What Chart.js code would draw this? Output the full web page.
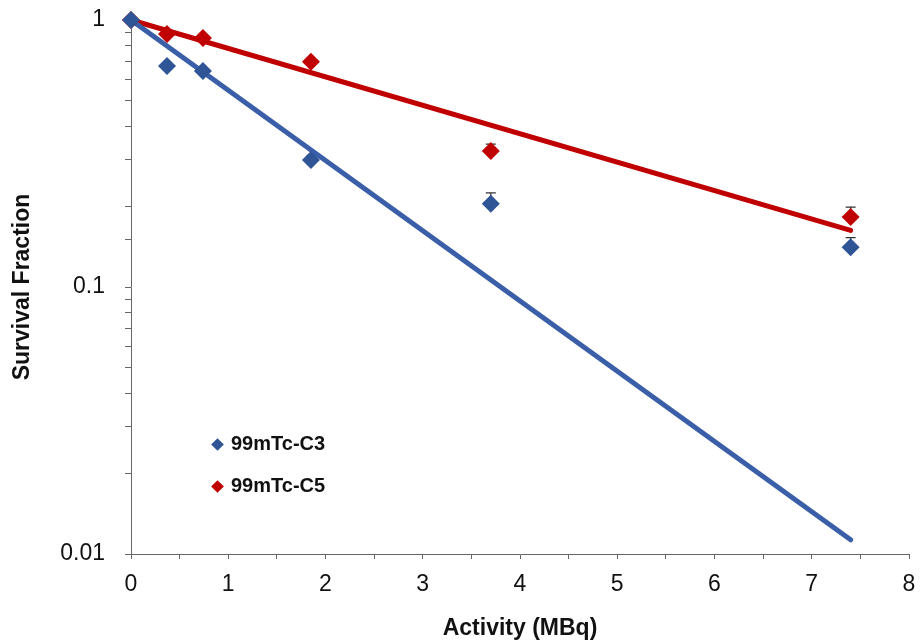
<!DOCTYPE html>
<html>
<head>
<meta charset="utf-8">
<script src="https://cdn.jsdelivr.net/npm/chart.js@4.4.1/dist/chart.umd.min.js"></script>
<style>
    body { margin: 0; background: #fff; }
    #wrap { position: relative; width: 921px; height: 644px; }
    #legend { position: absolute; left: 210px; top: 432px; font-family: 'Liberation Sans', Arial, sans-serif; font-weight: bold; font-size: 20px; color: #111; }
    #legend div { height: 42px; display: flex; align-items: flex-start; }
    #legend span.mk { display: inline-block; width: 9px; height: 9px; transform: rotate(45deg); margin: 8px 9px 0 3px; }
</style>
</head>
<body>
<div id="wrap">
    <canvas id="survivalChart"></canvas>
    <div id="legend"></div>
</div>
<script>
const activity = [0, 0.37, 0.74, 1.85, 3.7, 7.4];
const c3Values = [1, 0.672, 0.644, 0.299, 0.205, 0.141];
const c5Values = [1, 0.886, 0.856, 0.697, 0.323, 0.183];
const c3Err = [0, 0.01, 0.01, 0.01, 0.02, 0.012];
const c5Err = [0, 0.01, 0.01, 0.02, 0.02, 0.016];
const trendX = [0, 7.4];
const c3Trend = [1, 0.0113];
const c5Trend = [1, 0.163];
const seriesNames = ['99mTc-C3', '99mTc-C5'];
const yLabels = [1, 0.1, 0.01];

const blue = '#2F5597';
const blueLine = '#3A5FA8';
const red = '#C00000';
const axisColor = '#666';

function pts(xs, ys) {
    return xs.map((x, i) => ({ x: x, y: ys[i] }));
}

// error bars drawn behind the markers
const errorBars = {
    id: 'errorBars',
    beforeDatasetsDraw(chart) {
        const ctx = chart.ctx;
        const xs = chart.scales.x;
        const ys = chart.scales.y;
        ctx.save();
        ctx.strokeStyle = '#333';
        ctx.lineWidth = 1.2;
        chart.data.datasets.forEach(ds => {
            if (!ds.errors) return;
            ds.data.forEach((p, i) => {
                const e = ds.errors[i];
                if (!e) return;
                const px = xs.getPixelForValue(p.x);
                const y0 = ys.getPixelForValue(p.y);
                const y1 = ys.getPixelForValue(p.y + e);
                ctx.beginPath();
                ctx.moveTo(px, y0);
                ctx.lineTo(px, y1);
                ctx.moveTo(px - 5, y1);
                ctx.lineTo(px + 5, y1);
                ctx.stroke();
            });
        });
        ctx.restore();
    }
};

const ctx = document.getElementById('survivalChart').getContext('2d');
const survivalChart = new Chart(ctx, {
    type: 'scatter',
    data: {
        datasets: [{
            label: seriesNames[0],
            data: pts(activity, c3Values),
            errors: c3Err,
            pointStyle: 'rectRot',
            pointRadius: 9,
            backgroundColor: blue,
            borderColor: blue,
            borderWidth: 0,
            clip: false,
            order: 1
        }, {
            label: seriesNames[1],
            data: pts(activity, c5Values),
            errors: c5Err,
            pointStyle: 'rectRot',
            pointRadius: 9,
            backgroundColor: red,
            borderColor: red,
            borderWidth: 0,
            clip: false,
            order: 1
        }, {
            type: 'line',
            label: 'c3 trend',
            data: pts(trendX, c3Trend),
            borderColor: blueLine,
            borderWidth: 5,
            borderCapStyle: 'round',
            pointRadius: 0,
            clip: false,
            order: 2
        }, {
            type: 'line',
            label: 'c5 trend',
            data: pts(trendX, c5Trend),
            borderColor: red,
            borderWidth: 5,
            borderCapStyle: 'round',
            pointRadius: 0,
            clip: false,
            order: 2
        }]
    },
    options: {
        responsive: true,
        maintainAspectRatio: false,
        animation: false,
        layout: {
            padding: { top: 20, right: 12, left: 0, bottom: 0 }
        },
        plugins: {
            legend: { display: false },
            tooltip: { enabled: false }
        },
        scales: {
            x: {
                type: 'linear',
                min: 0,
                max: 8,
                afterFit: function(scale) {
                    scale.height = 90;
                    scale.paddingLeft = 0;
                    scale.paddingRight = 0;
                },
                ticks: {
                    stepSize: 0.5,
                    autoSkip: false,
                    maxRotation: 0,
                    padding: 12,
                    color: '#111',
                    font: { family: 'Liberation Sans', size: 23 },
                    callback: function(v) {
                        return Number.isInteger(v) ? String(v) : '';
                    }
                },
                grid: {
                    drawOnChartArea: false,
                    drawTicks: true,
                    tickLength: 5,
                    color: axisColor
                },
                border: { display: true, color: axisColor, width: 1 },
                title: {
                    display: true,
                    text: 'Activity (MBq)',
                    color: '#111',
                    padding: { top: 0, bottom: 2 },
                    font: { family: 'Liberation Sans', size: 23, weight: 'bold' }
                }
            },
            y: {
                type: 'logarithmic',
                min: 0.01,
                max: 1,
                afterFit: function(scale) {
                    scale.width = 131;
                    scale.paddingTop = 0;
                    scale.paddingBottom = 0;
                },
                ticks: {
                    autoSkip: false,
                    padding: 20,
                    color: '#111',
                    font: { family: 'Liberation Sans', size: 23 },
                    callback: function(v) {
                        const hit = yLabels.find(l => Math.abs(l - v) < l * 1e-6);
                        return hit !== undefined ? String(hit) : '';
                    }
                },
                grid: {
                    drawOnChartArea: false,
                    drawTicks: true,
                    tickLength: 6,
                    color: axisColor
                },
                border: { display: true, color: axisColor, width: 1 },
                title: {
                    display: true,
                    text: 'Survival Fraction',
                    color: '#111',
                    padding: { top: 9, bottom: 0 },
                    font: { family: 'Liberation Sans', size: 23, weight: 'bold' }
                }
            }
        }
    },
    plugins: [errorBars]
});

// legend inside the plot area
const legendBox = document.getElementById('legend');
survivalChart.data.datasets.slice(0, 2).forEach(ds => {
    const row = document.createElement('div');
    row.innerHTML = '<span class="mk" style="background:' + ds.backgroundColor + '"></span>' + ds.label;
    legendBox.appendChild(row);
});
</script>
</body>
</html>
